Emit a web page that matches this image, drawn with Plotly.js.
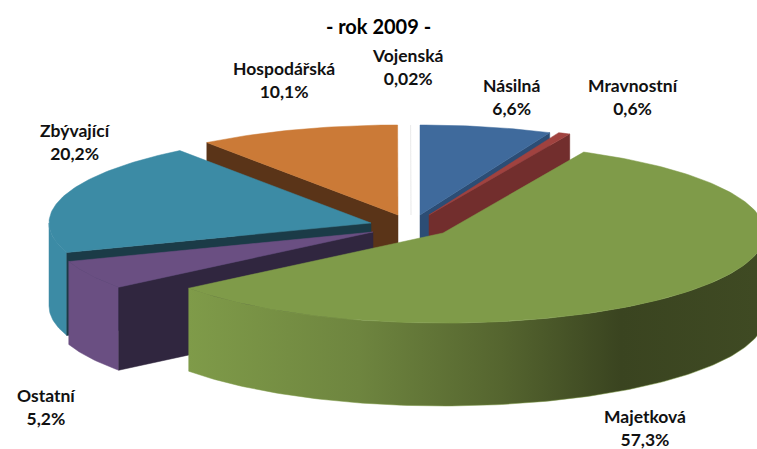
<!DOCTYPE html>
<html><head><meta charset="utf-8">
<script src="https://cdn.plot.ly/plotly-3.0.1.min.js"></script>
<style>html,body{margin:0;padding:0;background:#fff}#c{width:757px;height:449px}</style>
</head><body><div id="c"></div>
<script>
// Chart values (clockwise from 12 o'clock)
const categories = ['Násilná','Mravnostní','Majetková','Ostatní','Zbývající','Hospodářská','Vojenská'];
const shares     = [6.6, 0.6, 57.3, 5.2, 20.2, 10.1, 0.02];
const shareText  = ['6,6%','0,6%','57,3%','5,2%','20,2%','10,1%','0,02%'];

// Styling
const topColors  = ['#3f6a9c','#a0423f','#7f9b49','#6a4f82','#3c8ba5','#cb7a37','#e4e4e4'];
const cutColors  = ['#2c4d75','#722e2d','#5e7336','#30263f','#1b3b47','#5a3418','#e4e4e4'];
const outerColors= ['#3f6a9c','#a0423f','#7f9b49','#6a4f82','#3c8ba5','#cb7a37','#e4e4e4'];

// Exploded-pie projection, in the chart's own units
const centre = {x: 410, y: 222};
const explodeX = [10, 19, 33, -37, -39, -12, 1];
const explodeY = [-7, -7, 11, 10, 1, -7, -7];
const radiusX = 322, radiusY = 90, depth = 83;

// Label positions
const labelX = [511, 633, 645, 46, 75, 284, 407];
const labelY = [97, 97, 428, 407, 142, 80, 67];

const total = shares.reduce((a,b)=>a+b,0);
const toRad = Math.PI/180;
const starts = []; let acc = 0;
shares.forEach(v=>{starts.push(acc/total*360); acc+=v;});

function rim(i,a){ return [centre.x+explodeX[i]+radiusX*Math.sin(a*toRad),
                           centre.y+explodeY[i]-radiusY*Math.cos(a*toRad)]; }
function apex(i){ return [centre.x+explodeX[i], centre.y+explodeY[i]]; }
function poly(pts,color,extra){
  return Object.assign({type:'scatter',mode:'lines',x:pts.map(p=>p[0]),y:pts.map(p=>p[1]),
    fill:'toself',fillcolor:color,line:{color:color,width:0.5},hoverinfo:'skip',showlegend:false},extra||{});
}
function arc(i,a0,a1){ const p=[]; const n=Math.max(2,Math.ceil(Math.abs(a1-a0)));
  for(let k=0;k<=n;k++) p.push(rim(i,a0+(a1-a0)*k/n)); return p; }
function down(p){ return [p[0],p[1]+depth]; }

function topFace(i){
  const a0=starts[i], a1=a0+shares[i]/total*360;
  return poly([apex(i)].concat(arc(i,a0,a1)).concat([apex(i)]),topColors[i],{name:categories[i]});
}
function cutFace(i,a){
  const A=apex(i), R=rim(i,a);
  return poly([A,R,down(R),down(A),A],cutColors[i]);
}
function outerFace(i,extra){
  const a0=starts[i], a1=a0+shares[i]/total*360;
  const lo=Math.max(a0,90), hi=Math.min(a1,270);
  if(hi<=lo) return null;
  const upper=arc(i,lo,hi), lower=upper.map(down).reverse();
  return poly(upper.concat(lower).concat([upper[0]]),outerColors[i],extra);
}
const endA=i=>starts[i]+shares[i]/total*360;

const greenSide={fillgradient:{type:'horizontal',start:188,stop:757,colorscale:[
  [0,'#7f9b49'],[0.3,'#6e853f'],[0.55,'#55652f'],[0.76,'#3a4420'],[1,'#3f4a23']]}};

const V=6,H=5,B=0,R=1,M=2,O=3,Z=4;
const traces=[
  topFace(V),
  cutFace(H,starts[H]), topFace(H),
  cutFace(B,endA(B)), topFace(B),
  cutFace(R,endA(R)), topFace(R),
  outerFace(Z), cutFace(Z,starts[Z]), topFace(Z),
  outerFace(O), cutFace(O,starts[O]), topFace(O),
  outerFace(M,greenSide), topFace(M)
].filter(Boolean);

const annotations=categories.map((c,i)=>({
  x:labelX[i],y:labelY[i],xref:'x',yref:'y',text:c+'<br>'+shareText[i],showarrow:false,
  xanchor:'center',yanchor:'middle',align:'center',
  font:{family:'Lato, "Open Sans", sans-serif',size:17.5,color:'#111',weight:700}
}));

const layout={
  width:757,height:449,margin:{l:0,r:0,t:0,b:0},paper_bgcolor:'#fff',plot_bgcolor:'#fff',
  showlegend:false,hovermode:false,
  title:{text:'<b>- rok 2009 -</b>',x:0.5,xanchor:'center',y:0.94,yanchor:'middle',
    font:{family:'Lato, sans-serif',size:20,color:'#000'}},
  xaxis:{range:[0,757],visible:false,fixedrange:true},
  yaxis:{range:[449,0],visible:false,fixedrange:true},
  annotations
};
Plotly.newPlot('c',traces,layout,{displayModeBar:false,staticPlot:true});
</script></body></html>
